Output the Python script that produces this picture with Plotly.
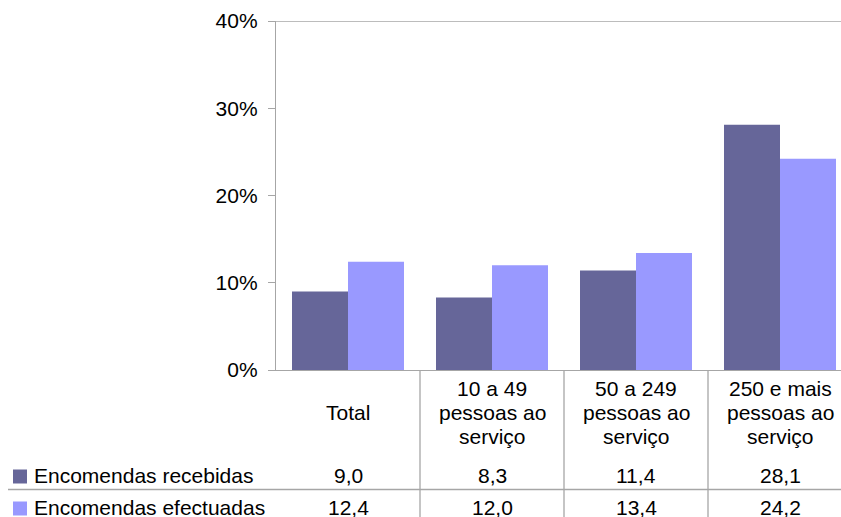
import plotly.graph_objects as go

categories = ["Total", "10 a 49 pessoas ao serviço", "50 a 249 pessoas ao serviço", "250 e mais pessoas ao serviço"]
category_lines = [["Total"],
                  ["10 a 49", "pessoas ao", "serviço"],
                  ["50 a 249", "pessoas ao", "serviço"],
                  ["250 e mais", "pessoas ao", "serviço"]]
series_names = ["Encomendas recebidas", "Encomendas efectuadas"]
recebidas = [9.0, 8.3, 11.4, 28.1]
efectuadas = [12.4, 12.0, 13.4, 24.2]
y_ticks = [0, 10, 20, 30, 40]
y_tick_labels = ["0%", "10%", "20%", "30%", "40%"]

colors = ["#666699", "#9999FF"]
axis_col = "#A6A6A6"
FONT = "Liberation Sans, Arial, sans-serif"
FS = 21

OFF = 0  # body margin removed by post_script
W, H = 841, 517
L, T, B = 276, 21, 370
PW, PH = W - L, B - T
CATW = 144.0
TXT_DY = -1.0  # text vertical fine-tuning


def px(xp):  # reference pixel -> paper x
    return (xp - OFF - L) / PW


def py(yp):  # reference pixel -> paper y
    return (B - (yp - OFF)) / PH


def fmt(v):
    return f"{v:.1f}".replace(".", ",")


xs = list(range(len(categories)))
fig = go.Figure()
for name, vals, col in zip(series_names, [recebidas, efectuadas], colors):
    fig.add_trace(go.Bar(x=xs, y=vals, name=name, marker=dict(color=col, line=dict(width=0)),
                         hoverinfo="skip"))

shapes = []
annotations = []

# top line at 40%
shapes.append(dict(type="line", xref="paper", yref="y", x0=0, x1=1, y0=40, y1=40,
                   line=dict(color=axis_col, width=1.3)))

# vertical table lines at category boundaries
for i in range(len(categories) - 1):
    shapes.append(dict(type="line", xref="x", yref="paper", x0=i + 0.5, x1=i + 0.5,
                       y0=py(370), y1=py(530), line=dict(color=axis_col, width=1.3)))
# horizontal divider between rows
shapes.append(dict(type="line", xref="paper", yref="paper", x0=px(8), x1=px(850),
                   y0=py(489.5), y1=py(489.5), line=dict(color=axis_col, width=1.3)))

# header labels
line_centers = [389.5, 413.5, 437.5]
for i, lines in enumerate(category_lines):
    ys = [413.5] if len(lines) == 1 else line_centers
    for ln, yc in zip(lines, ys):
        annotations.append(dict(x=i, xref="x", y=py(yc + TXT_DY), yref="paper", text=ln,
                                showarrow=False, xanchor="center", yanchor="middle",
                                font=dict(family=FONT, size=FS, color="black")))

# data rows
row_centers = [476.5, 508.5]
for r, (name, vals, col) in enumerate(zip(series_names, [recebidas, efectuadas], colors)):
    yc = row_centers[r]
    shapes.append(dict(type="rect", xref="paper", yref="paper", x0=px(13), x1=px(27),
                       y0=py(yc + 7), y1=py(yc - 7), fillcolor=col, line=dict(width=0)))
    annotations.append(dict(x=px(32), xref="paper", y=py(yc + TXT_DY), yref="paper", text=name,
                            showarrow=False, xanchor="left", yanchor="middle",
                            font=dict(family=FONT, size=FS, color="black")))
    for i, v in enumerate(vals):
        annotations.append(dict(x=i, xref="x", y=py(yc + TXT_DY), yref="paper", text=fmt(v),
                                showarrow=False, xanchor="center", yanchor="middle",
                                font=dict(family=FONT, size=FS, color="black")))

fig.update_layout(
    width=W, height=H,
    margin=dict(l=L, r=0, t=T, b=H - B, pad=0),
    paper_bgcolor="white", plot_bgcolor="white",
    barmode="group", bargap=32 / 144, bargroupgap=0,
    showlegend=False,
    shapes=shapes, annotations=annotations,
    font=dict(family=FONT, size=FS, color="black"),
    xaxis=dict(range=[-0.5, -0.5 + PW / CATW], showticklabels=False, ticks="",
               showgrid=False, zeroline=False, showline=True, linecolor=axis_col, linewidth=1.3,
               fixedrange=True),
    yaxis=dict(range=[0, 40], tickvals=y_ticks, ticktext=y_tick_labels, ticks="outside",
               ticklen=7, tickcolor=axis_col, tickwidth=1.3, showgrid=False, zeroline=False,
               showline=True, linecolor=axis_col, linewidth=1.3, ticklabelstandoff=6,
               tickfont=dict(family=FONT, size=FS, color="black"), fixedrange=True),
)
fig.write_html("out.html", config={"displayModeBar": False},
               post_script="document.body.style.margin='0';document.body.style.overflow='hidden';")
